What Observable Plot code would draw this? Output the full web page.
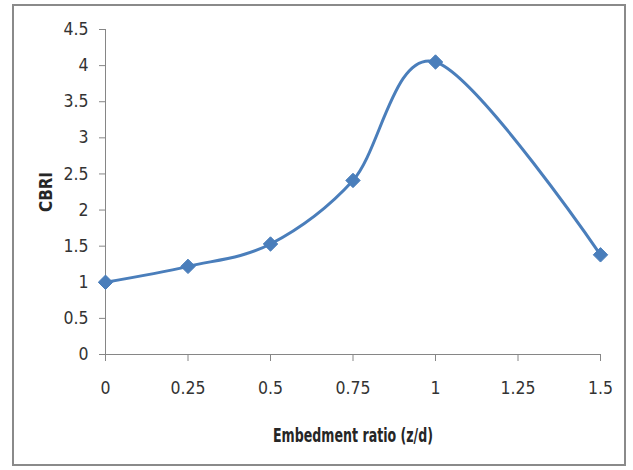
<!DOCTYPE html>
<html><head><meta charset="utf-8">
<script src="https://cdn.jsdelivr.net/npm/d3@7"></script>
<script src="https://cdn.jsdelivr.net/npm/@observablehq/plot@0.6"></script>
<style>
html,body{margin:0;padding:0;background:#fff;}
#wrap{position:relative;width:633px;height:470px;overflow:hidden;}
#border{position:absolute;left:12px;top:4px;width:614px;height:462px;border:2px solid #8a8a8a;box-sizing:border-box;pointer-events:none;}
svg{position:absolute;left:0;top:0;}
</style></head>
<body><div id="wrap"><div id="border"></div></div>
<script>
const ratios = [0, 0.25, 0.5, 0.75, 1, 1.5];
const cbri = [1.0, 1.22, 1.53, 2.41, 4.05, 1.38];
const xTicks = [0, 0.25, 0.5, 0.75, 1, 1.25, 1.5];
const yTicks = [0, 0.5, 1, 1.5, 2, 2.5, 3, 3.5, 4, 4.5];
const xTitle = "Embedment ratio (z/d)";
const yTitle = "CBRI";

const data = ratios.map((r, i) => ({r, v: cbri[i]}));
const blue = "#4a7ebb";
const grey = "#868686";
const font = "'Liberation Sans Narrow', 'DejaVu Sans Condensed', sans-serif";

const chart = Plot.plot({
  width: 633, height: 470,
  marginLeft: 105, marginRight: 33, marginTop: 29, marginBottom: 116,
  style: {fontFamily: font, fontSize: "17.5px", color: "#333", background: "transparent"},
  x: {domain: [0, 1.5], ticks: xTicks, tickFormat: d => String(d)},
  y: {domain: [0, 4.5], ticks: yTicks, tickFormat: d => String(d)},
  marks: [
    Plot.axisY({ticks: yTicks, tickSize: 6, tickPadding: 11, stroke: grey, label: null, tickFormat: d => String(d)}),
    Plot.axisX({ticks: xTicks, tickSize: 7, tickPadding: 20, stroke: grey, label: null, tickFormat: d => String(d)}),
    Plot.ruleX([0], {stroke: grey}),
    Plot.ruleY([0], {stroke: grey}),
    Plot.line(data, {x: "r", y: "v", curve: "cardinal", tension: 0, stroke: blue, strokeWidth: 3}),
    Plot.dot(data, {x: "r", y: "v", symbol: "diamond2", r: 6.5, fill: blue, stroke: blue, strokeWidth: 1})
  ]
});
document.getElementById("wrap").appendChild(chart);
const svg = d3.select(chart);
svg.append("text").attr("x", 353).attr("y", 442).attr("text-anchor", "middle")
  .attr("textLength", 160).attr("lengthAdjust", "spacingAndGlyphs")
  .style("font-family", font).style("font-weight", "bold").style("font-size", "20px").attr("fill", "#262626").text(xTitle);
svg.append("text").attr("transform", "translate(52,192) rotate(-90)").attr("text-anchor", "middle")
  .attr("textLength", 40).attr("lengthAdjust", "spacingAndGlyphs")
  .style("font-family", font).style("font-weight", "bold").style("font-size", "18px").attr("fill", "#262626").text(yTitle);
</script></body></html>
